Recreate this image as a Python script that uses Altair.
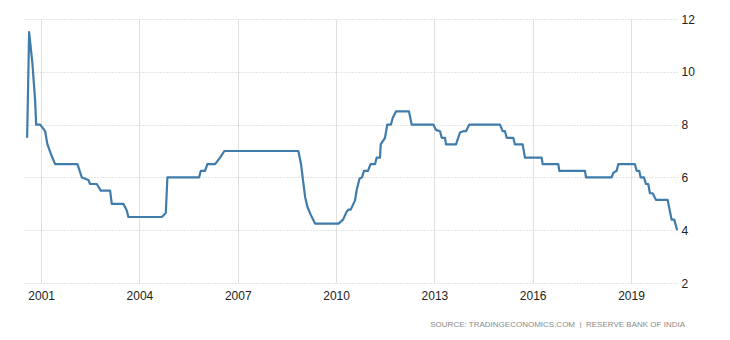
import altair as alt
import pandas as pd
import numpy as np

# Decimal-year time stamps of the points
times = [
    2000.573, 2000.634, 2000.735, 2000.817, 2000.847, 2000.969,
    2001.122, 2001.192, 2001.326, 2001.427,
    2002.107, 2002.242, 2002.443, 2002.495, 2002.699, 2002.821,
    2003.105, 2003.157, 2003.511, 2003.614, 2003.663,
    2004.682, 2004.804, 2004.853,
    2005.820, 2005.872, 2006.003, 2006.073, 2006.308, 2006.461, 2006.592,
    2008.849, 2008.931, 2009.002, 2009.054, 2009.124, 2009.228, 2009.359,
    2010.076, 2010.213, 2010.326, 2010.381, 2010.448, 2010.579, 2010.631,
    2010.716, 2010.793, 2010.854, 2010.976,
    2011.052, 2011.189, 2011.241, 2011.342, 2011.363, 2011.494, 2011.564,
    2011.677, 2011.729, 2011.830,
    2012.226, 2012.309, 2012.968,
    2013.050, 2013.172, 2013.224, 2013.325, 2013.355, 2013.660, 2013.782,
    2013.883, 2013.965, 2014.066,
    2015.003, 2015.085, 2015.155, 2015.207, 2015.408, 2015.460, 2015.695,
    2015.765, 2016.275, 2016.305, 2016.781, 2016.812,
    2017.596, 2017.626, 2018.410, 2018.459, 2018.563, 2018.612,
    2019.121, 2019.173, 2019.252, 2019.295, 2019.396, 2019.457, 2019.527,
    2019.579, 2019.661, 2019.762,
    2020.118, 2020.240, 2020.320, 2020.411,
]
rates = [
    7.5, 11.5, 10.3, 8.9, 8.0, 8.0,
    7.75, 7.25, 6.8, 6.5,
    6.5, 6.0, 5.9, 5.75, 5.75, 5.5,
    5.5, 5.0, 5.0, 4.75, 4.5,
    4.5, 4.65, 6.0,
    6.0, 6.25, 6.25, 6.5, 6.5, 6.75, 7.0,
    7.0, 6.5, 5.78, 5.27, 4.89, 4.58, 4.25,
    4.25, 4.4, 4.71, 4.78, 4.78, 5.13, 5.53,
    5.95, 6.0, 6.25, 6.25,
    6.5, 6.5, 6.75, 6.75, 7.25, 7.5, 8.0,
    8.0, 8.25, 8.5,
    8.5, 8.0, 8.0,
    7.8, 7.75, 7.5, 7.5, 7.25, 7.25, 7.7,
    7.75, 7.75, 8.0,
    8.0, 7.75, 7.75, 7.5, 7.5, 7.25, 7.25,
    6.75, 6.75, 6.5, 6.5, 6.25,
    6.25, 6.0, 6.0, 6.17, 6.25, 6.5,
    6.5, 6.25, 6.25, 6.0, 6.0, 5.75, 5.75,
    5.4, 5.4, 5.15,
    5.15, 4.4, 4.4, 4.0,
]
tick_years = [2001, 2004, 2007, 2010, 2013, 2016, 2019]
y_ticks = [2, 4, 6, 8, 10, 12]
source_text = "SOURCE: TRADINGECONOMICS.COM\u00a0\u00a0|\u00a0\u00a0RESERVE BANK OF INDIA"

t = np.array(times)
yrs = np.floor(t).astype(int)
frac = t - yrs
starts = pd.to_datetime([f"{y}-01-01" for y in yrs])
ends = pd.to_datetime([f"{y + 1}-01-01" for y in yrs])
dates = starts + (ends - starts) * frac
df = pd.DataFrame({"date": dates.strftime("%Y-%m-%dT%H:%M:%S"), "rate": rates})

FONT = "Liberation Sans"

x_enc = alt.X(
    "date:T",
    scale=alt.Scale(domain=[alt.DateTime(year=2000, month=7, date=5),
                            alt.DateTime(year=2020, month=5, date=28)]),
    axis=alt.Axis(
        values=[alt.DateTime(year=y, month=1, date=1) for y in tick_years],
        format="%Y", title=None, domain=False, ticks=False,
        labelFont=FONT, labelFontSize=12, labelColor="#222",
        labelPadding=7, labelFlush=False,
        grid=True, gridColor="#e0e0e0", gridWidth=1,
    ),
)
y_enc = alt.Y(
    "rate:Q",
    scale=alt.Scale(domain=[2, 12], nice=False, zero=False),
    axis=alt.Axis(
        orient="right", values=y_ticks, title=None, domain=False, ticks=False,
        labelFont=FONT, labelFontSize=12, labelColor="#222", labelPadding=4,
        grid=True, gridColor="#c8c8c8", gridDash=[1, 2], gridWidth=1,
    ),
)

line = alt.Chart(df).mark_line(color="#3f7bab", strokeWidth=2.2,
                               strokeJoin="round").encode(x=x_enc, y=y_enc)

src = alt.Chart(pd.DataFrame({"t": [source_text]})).mark_text(
    align="right", baseline="middle", font=FONT, fontSize=8,
    color="#8a8a8a",
).encode(text="t:N", x=alt.value(660), y=alt.value(306))

chart = alt.layer(line, src).properties(
    width=652, height=264,
    padding={"left": 17, "top": 11, "right": 40, "bottom": 45},
    autosize=alt.AutoSizeParams(type="none"),
).configure_view(stroke=None)

chart.save("out.html", embed_options={"renderer": "svg", "actions": False})
